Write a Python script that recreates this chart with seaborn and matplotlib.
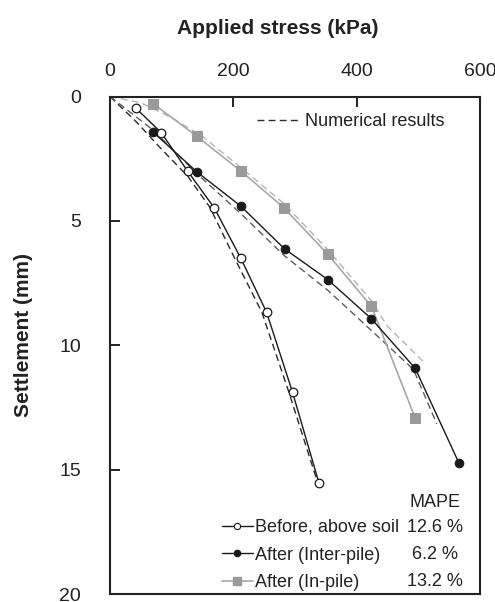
import matplotlib
matplotlib.use("Agg")
import matplotlib.pyplot as plt
from matplotlib.lines import Line2D
import seaborn as sns
import pandas as pd

# Measured load-settlement data (stress in kPa, settlement in mm)
before_stress = [42, 83, 126, 169, 212, 254, 296, 339]
before_settle = [0.47, 1.45, 3.0, 4.47, 6.49, 8.67, 11.88, 15.53]

inter_stress = [70, 141, 212, 283, 353, 424, 495, 566]
inter_settle = [1.43, 3.03, 4.4, 6.12, 7.35, 8.93, 10.92, 14.73]

inpile_stress = [70, 141, 212, 282, 353, 424, 495]
inpile_settle = [0.29, 1.6, 2.99, 4.47, 6.33, 8.43, 12.92]

# Numerical predictions
num_before_stress = [0, 42, 83, 126, 162, 202, 246, 290, 338]
num_before_settle = [0, 1.0, 2.1, 3.2, 4.45, 6.49, 8.65, 11.87, 15.6]

num_inter_stress = [0, 70, 141, 212, 283, 354, 424, 492, 530]
num_inter_settle = [0, 1.35, 3.1, 4.7, 6.4, 7.8, 9.4, 10.96, 13.15]

num_inpile_stress = [0, 50, 100, 150, 212, 282, 353, 424, 449, 510]
num_inpile_settle = [0, 0.25, 0.85, 1.6, 2.85, 4.3, 6.15, 8.2, 9.2, 10.7]

series_names = ["Before, above soil", "After (Inter-pile)", "After (In-pile)"]
mape_values = ["12.6 %", "6.2 %", "13.2 %"]

sns.set_theme(style="white")
plt.rcParams["font.family"] = ["Liberation Sans", "DejaVu Sans"]

fig = plt.figure(figsize=(4.95, 6.02), dpi=100)
ax = fig.add_axes([0.2222, 0.0125, 0.7475, 0.8272])

DASH = (0, (5, 3))

def df(x, y):
    return pd.DataFrame({"stress": x, "settle": y})

# numerical curves (drawn first, underneath)
sns.lineplot(data=df(num_before_stress, num_before_settle), x="stress", y="settle",
             sort=False, estimator=None, ax=ax, color="#2b2b2b", lw=1.0, linestyle=DASH)
sns.lineplot(data=df(num_inter_stress, num_inter_settle), x="stress", y="settle",
             sort=False, estimator=None, ax=ax, color="#5c5c5c", lw=1.0, linestyle=DASH)
sns.lineplot(data=df(num_inpile_stress, num_inpile_settle), x="stress", y="settle",
             sort=False, estimator=None, ax=ax, color="#b4b4b4", lw=1.0, linestyle=DASH)

# measured curves
sns.lineplot(data=df(inpile_stress, inpile_settle), x="stress", y="settle",
             sort=False, estimator=None, ax=ax, color="#a8a8a8", lw=1.2,
             marker="s", markersize=7.5, markerfacecolor="#9a9a9a",
             markeredgecolor="#9a9a9a")
sns.lineplot(data=df(before_stress, before_settle), x="stress", y="settle",
             sort=False, estimator=None, ax=ax, color="#1a1a1a", lw=1.0,
             marker="o", markersize=6.2, markerfacecolor="white",
             markeredgecolor="#1a1a1a", markeredgewidth=0.9)
sns.lineplot(data=df(inter_stress, inter_settle), x="stress", y="settle",
             sort=False, estimator=None, ax=ax, color="#1a1a1a", lw=1.0,
             marker="o", markersize=6.2, markerfacecolor="#1a1a1a",
             markeredgecolor="#1a1a1a")

ax.set_xlim(0, 600)
ax.set_ylim(20, 0)
ax.set_xticks([0, 200, 400, 600])
ax.set_yticks([0, 5, 10, 15, 20])

ax.xaxis.tick_top()
ax.xaxis.set_label_position("top")
ax.tick_params(axis="x", which="both", direction="in", length=7, width=1.4,
               top=True, bottom=False, labelsize=14, pad=12, colors="#222222",
               labelcolor="#222222")
ax.tick_params(axis="y", which="both", direction="in", length=7, width=1.4,
               left=True, right=False, labelsize=14, pad=21, colors="#222222",
               labelcolor="#222222")
for sp in ax.spines.values():
    sp.set_visible(True)
    sp.set_linewidth(1.5)
    sp.set_color("#222222")

ax.set_xlabel("Applied stress (kPa)", fontsize=15, fontweight="bold", color="#222222")
ax.set_ylabel("Settlement (mm)", fontsize=15, fontweight="bold", color="#222222")
ax.xaxis.set_label_coords(0.453, 1.126)
ax.yaxis.set_label_coords(-0.208, 0.521)

# legend for the numerical curves
num_handle = [Line2D([], [], color="#2b2b2b", lw=1.0, linestyle=DASH)]
leg1 = ax.legend(num_handle, ["Numerical results"], loc="center left",
                 bbox_to_anchor=(0.3965, 0.9494), frameon=False, fontsize=13,
                 handlelength=2.4, handletextpad=0.28, borderpad=0,
                 borderaxespad=0, labelcolor="#222222")
ax.add_artist(leg1)

# legend for the measured curves
meas_handles = [
    Line2D([], [], color="#1a1a1a", lw=1.0, marker="o", markersize=4.5,
           markerfacecolor="white", markeredgecolor="#1a1a1a", markeredgewidth=0.8),
    Line2D([], [], color="#1a1a1a", lw=1.0, marker="o", markersize=4.5,
           markerfacecolor="#1a1a1a", markeredgecolor="#1a1a1a"),
    Line2D([], [], color="#a8a8a8", lw=1.2, marker="s", markersize=6,
           markerfacecolor="#9a9a9a", markeredgecolor="#9a9a9a"),
]
ax.legend(meas_handles, series_names, loc="lower left",
          bbox_to_anchor=(0.302, 0.006), frameon=False, fontsize=13,
          handlelength=1.72, handletextpad=0.13, borderpad=0,
          borderaxespad=0, labelspacing=0.6, labelcolor="#222222")

# MAPE column
ax.text(0.878, 0.1838, "MAPE", transform=ax.transAxes, ha="center", va="center",
        fontsize=13, color="#222222")
for yy, val in zip([0.1336, 0.0793, 0.0251], mape_values):
    ax.text(0.878, yy, val, transform=ax.transAxes, ha="center", va="center",
            fontsize=13, color="#222222")

fig.savefig("out.png", dpi=100)
